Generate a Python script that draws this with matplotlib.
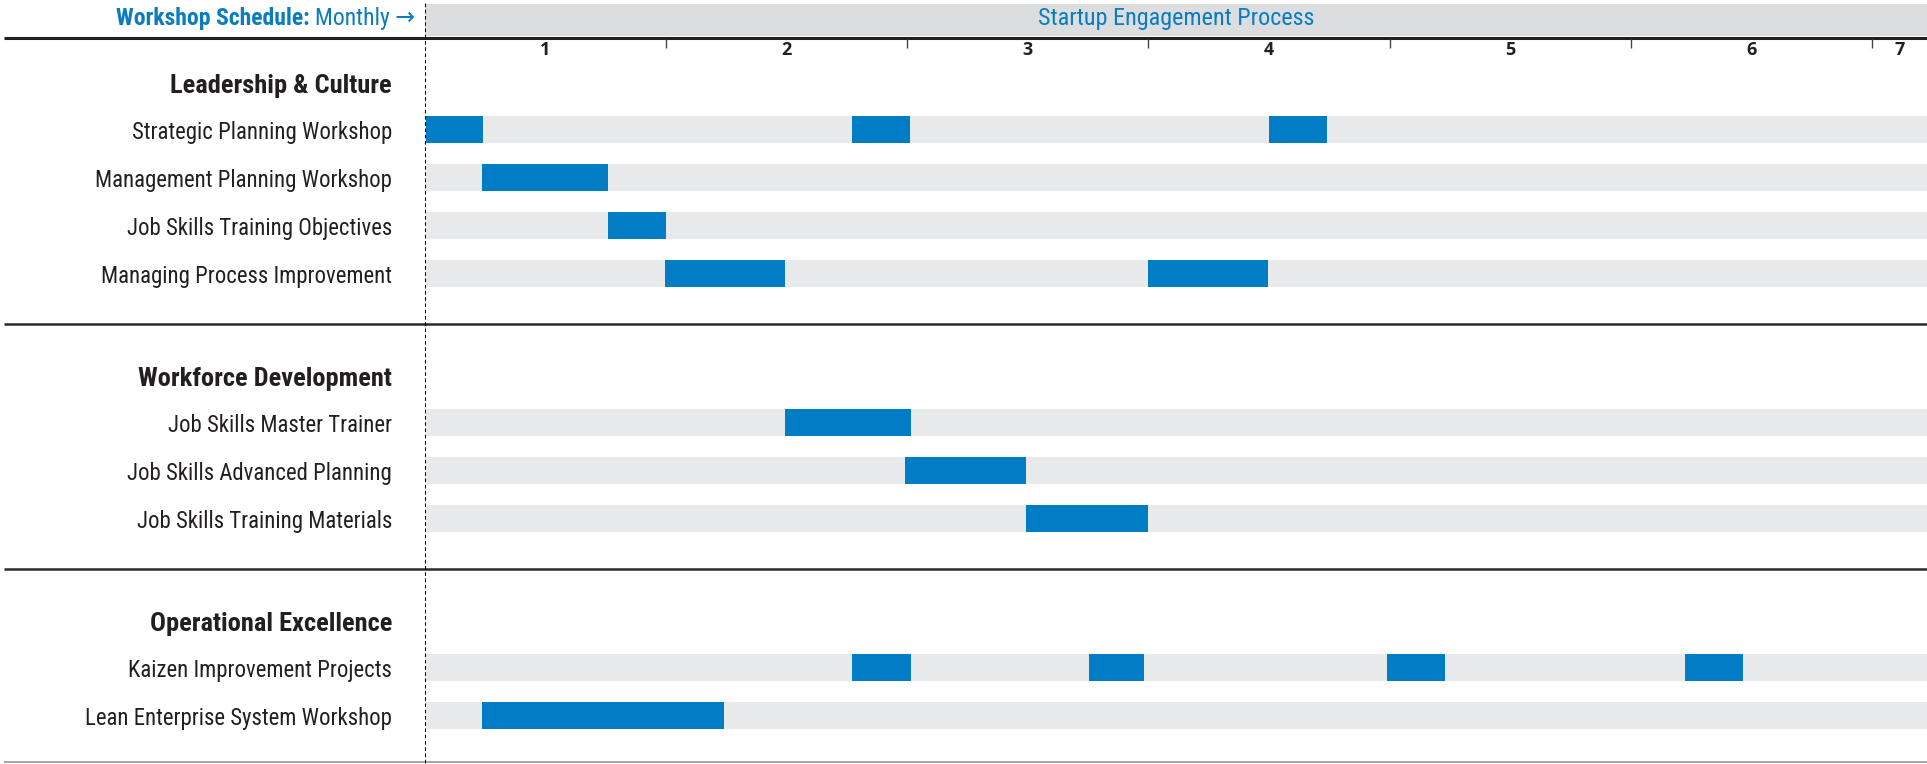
import matplotlib
matplotlib.use("Agg")
import matplotlib.pyplot as plt
import matplotlib.transforms as mtransforms
from matplotlib import font_manager as fm

# ---------------------------------------------------------------- data
WEEKS_PER_MONTH = 4

group_names = ["Leadership & Culture", "Workforce Development", "Operational Excellence"]

leadership_tasks = [
    "Strategic Planning Workshop",
    "Management Planning Workshop",
    "Job Skills Training Objectives",
    "Managing Process Improvement",
]
workforce_tasks = [
    "Job Skills Master Trainer",
    "Job Skills Advanced Planning",
    "Job Skills Training Materials",
]
operational_tasks = [
    "Kaizen Improvement Projects",
    "Lean Enterprise System Workshop",
]

# sessions per task: (start week, length in weeks)
leadership_sessions = [
    [(0.02, 0.95), (7.08, 0.97), (14.0, 0.96)],
    [(0.95, 2.09)],
    [(3.04, 0.96)],
    [(3.98, 1.99), (11.99, 1.99)],
]
workforce_sessions = [
    [(5.98, 2.08)],
    [(7.97, 2.0)],
    [(9.97, 2.02)],
]
operational_sessions = [
    [(7.08, 0.98), (11.01, 0.92), (15.95, 0.96), (20.89, 0.96)],
    [(0.95, 4.01)],
]

month_labels = ["1", "2", "3", "4", "5", "6", "7"]

header_left = "Workshop Schedule:"
header_unit = "Monthly \u2192"
header_title = "Startup Engagement Process"

# ---------------------------------------------------------------- style
W, H, DPI = 1927, 764, 100
BLUE = "#007dc5"
TRACK = "#e8e9eb"
BAND = "#dcdddf"
INK = "#231f20"
TEXT_BLUE = "#0a7cc1"

names = {f.name for f in fm.fontManager.ttflist}


def pick(cands, default="DejaVu Sans"):
    for c in cands:
        if c in names:
            return c
    return default


NARROW = pick(["Liberation Sans Narrow", "Roboto Condensed", "Open Sans Condensed",
               "Liberation Sans"])
DIGITS = pick(["Open Sans", "Lato", "DejaVu Sans"])
NARROW_FAM = [NARROW, "DejaVu Sans"]

# layout (figure pixels, y measured from top)
X0 = 424.5              # left edge of the timeline
PX_PER_MONTH = 241.3
LABEL_RIGHT = 392
BAR_H = 27
ROW_PITCH = 48
HEAD_TO_ROW = 48.5
ROW_TO_RULE = 50.5
RULE_TO_HEAD = 50
FIRST_HEAD = 81
TOP_RULE = 37.5

fig = plt.figure(figsize=(W / DPI, H / DPI), dpi=DPI, facecolor="white")
ax = fig.add_axes([X0 / W, 0, (W - X0) / W, 1])
xmax = (W - X0) / PX_PER_MONTH
ax.set_xlim(0, xmax)
ax.set_ylim(H, 0)
ax.axis("off")

full_w = mtransforms.blended_transform_factory(fig.transFigure, ax.transData)

# header band and top rule
ax.axhspan(4, TOP_RULE - 1.5, color=BAND, lw=0, zorder=0)
ax.plot([4 / W, 1], [TOP_RULE, TOP_RULE], transform=full_w, color=INK, lw=2.2,
        solid_capstyle="butt", clip_on=False, zorder=3)

# month ticks and labels
ax.vlines(range(1, len(month_labels)), TOP_RULE + 1, 48, color="#444444", lw=1.0, zorder=3)
for i, lab in enumerate(month_labels):
    lo, hi = i, min(i + 1, xmax)
    ax.text((lo + hi) / 2, 55, lab, ha="center", va="baseline", fontsize=13,
            fontweight="bold", family=DIGITS, color=INK)

# header texts
t_unit = fig.text(415 / W, 1 - 25.5 / H, header_unit, ha="right", va="baseline",
                  fontsize=17, family=NARROW_FAM, color=TEXT_BLUE)
ax.annotate(header_left + " ", xy=(0, 0), xycoords=t_unit, ha="right", va="bottom",
            fontsize=17, fontweight="bold", family=NARROW_FAM, color=TEXT_BLUE)
ax.text(xmax / 2, 25.5, header_title, ha="center", va="baseline", fontsize=17.4,
        family=NARROW_FAM, color=TEXT_BLUE)

# groups
groups = [
    (group_names[0], leadership_tasks, leadership_sessions),
    (group_names[1], workforce_tasks, workforce_sessions),
    (group_names[2], operational_tasks, operational_sessions),
]

label_x = LABEL_RIGHT / W
head_y = FIRST_HEAD
for gi, (gname, tasks, sessions) in enumerate(groups):
    ax.text(label_x, head_y + 12, gname, transform=full_w, ha="right", va="baseline",
            fontsize=19, fontweight="bold", family=NARROW_FAM, color=INK)
    row_y = head_y + HEAD_TO_ROW
    for ti, (task, sess) in enumerate(zip(tasks, sessions)):
        y = row_y + ti * ROW_PITCH
        ax.text(label_x, y + 9.5, task, transform=full_w, ha="right", va="baseline",
                fontsize=16.4, family=NARROW_FAM, color=INK)
        ax.barh(y, xmax, left=0.006, height=BAR_H, color=TRACK, lw=0, zorder=1)
        starts = [s / WEEKS_PER_MONTH for s, _ in sess]
        lengths = [n / WEEKS_PER_MONTH for _, n in sess]
        ax.barh([y] * len(sess), lengths, left=starts, height=BAR_H, color=BLUE,
                lw=0, zorder=2)
    last_y = row_y + (len(tasks) - 1) * ROW_PITCH
    rule_y = last_y + ROW_TO_RULE
    if gi < len(groups) - 1:
        ax.plot([4 / W, 1], [rule_y, rule_y], transform=full_w, color="#2b2b2b", lw=1.8,
                solid_capstyle="butt", clip_on=False, zorder=3)
    else:
        ax.plot([4 / W, 1], [H - 2.3, H - 2.3], transform=full_w, color="#8c8c8c", lw=1.1,
                solid_capstyle="butt", clip_on=False, zorder=3)
    head_y = rule_y + RULE_TO_HEAD

# dashed divider between labels and timeline
ax.vlines(0, 3, H, colors="black", lw=0.75, linestyles=(0, (3.5, 2.5)), clip_on=False,
          zorder=4)

fig.savefig("out.png", dpi=DPI, facecolor="white")
